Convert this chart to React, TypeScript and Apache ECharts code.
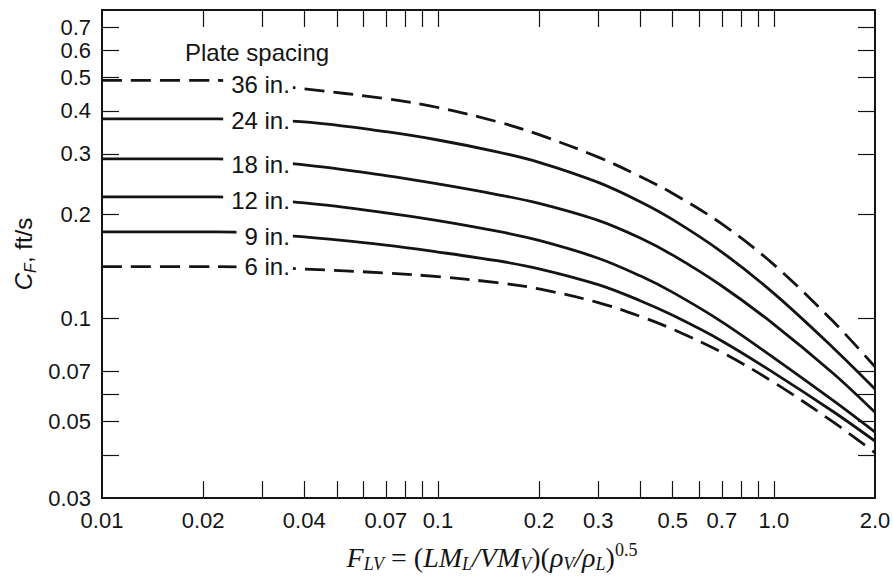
import React, { useEffect, useRef } from "react";
import * as echarts from "echarts";

// F_LV sample positions (shared by all curves)
const FLV = [0.01, 0.022, 0.04, 0.07, 0.1, 0.15, 0.2, 0.3, 0.4, 0.5, 0.7, 1.0, 1.5, 2.0];

// C_F (ft/s) for each plate spacing
const spacingNames = ["36 in.", "24 in.", "18 in.", "12 in.", "9 in.", "6 in."];
const cf36 = [0.49, 0.49, 0.463, 0.4337, 0.4089, 0.3719, 0.3409, 0.2934, 0.2578, 0.2301, 0.1877, 0.1429, 0.0978, 0.0722];
const cf24 = [0.379, 0.379, 0.3714, 0.3478, 0.329, 0.304, 0.2834, 0.2477, 0.2177, 0.1931, 0.1555, 0.1179, 0.082, 0.0622];
const cf18 = [0.29, 0.29, 0.2785, 0.2592, 0.2452, 0.2284, 0.2153, 0.1921, 0.1707, 0.1523, 0.1239, 0.0959, 0.0691, 0.0532];
const cf12 = [0.225, 0.225, 0.2159, 0.2022, 0.192, 0.1788, 0.168, 0.1492, 0.1326, 0.1187, 0.0975, 0.0766, 0.0576, 0.0466];
const cf9 = [0.178, 0.178, 0.172, 0.1628, 0.1555, 0.1467, 0.139, 0.125, 0.1123, 0.1018, 0.0858, 0.0693, 0.0535, 0.0439];
const cf6 = [0.141, 0.141, 0.1388, 0.1351, 0.1319, 0.1267, 0.1215, 0.1109, 0.1011, 0.0928, 0.0795, 0.065, 0.0499, 0.0406];
const curves = [cf36, cf24, cf18, cf12, cf9, cf6];
const dashedCurves = [true, false, false, false, false, true];

// curve label anchors (right end of label text)
const labelFLV = 0.037;
const labelCF = [0.476, 0.374, 0.28, 0.219, 0.173, 0.141];

// axis ticks and labels
const xTickValues = [0.02, 0.03, 0.04, 0.05, 0.06, 0.07, 0.08, 0.09, 0.1, 0.2, 0.3, 0.4, 0.5, 0.6, 0.7, 0.8, 0.9, 1.0];
const xLabelValues = [0.01, 0.02, 0.04, 0.07, 0.1, 0.2, 0.3, 0.5, 0.7, 1.0, 2.0];
const yTickValues = [0.04, 0.05, 0.06, 0.07, 0.1, 0.2, 0.3, 0.4, 0.5, 0.6, 0.7];
const yLabelValues = [0.03, 0.05, 0.07, 0.1, 0.2, 0.3, 0.4, 0.5, 0.6, 0.7];

const INK = "#141414";
const SANS = "'Liberation Sans', Arial, Helvetica, sans-serif";
const SERIF = "'Liberation Serif', 'Times New Roman', serif";

const fmt = (v: number) => {
  const r = Number(Number(v).toPrecision(4));
  return r >= 1 ? r.toFixed(1) : String(r);
};

function makeAxisCommon(show: boolean, labels: number[], ticks: number[]) {
  return {
    axisLine: { show: true, onZero: false, lineStyle: { color: INK, width: 2 } },
    axisTick: {
      show: true,
      inside: true,
      length: 17,
      customValues: ticks,
      lineStyle: { color: INK, width: 1.2 },
    },
    axisLabel: {
      show,
      customValues: labels,
      formatter: fmt,
      color: INK,
      fontSize: 22,
      fontFamily: SANS,
      margin: 11,
    },
    splitLine: { show: false },
    minorTick: { show: false },
    minorSplitLine: { show: false },
  };
}

export default function App() {
  const ref = useRef<HTMLDivElement>(null);

  useEffect(() => {
    if (!ref.current) return;
    const chart = echarts.init(ref.current, undefined, { renderer: "svg" });

    const lineSeries = curves.map((cf, i) => ({
      type: "line",
      name: spacingNames[i],
      xAxisIndex: 0,
      yAxisIndex: 0,
      data: FLV.map((x, j) => [x, cf[j]]),
      showSymbol: false,
      symbol: "none",
      smooth: 0.35,
      z: 2,
      lineStyle: {
        color: INK,
        width: 2.8,
        type: dashedCurves[i] ? [20, 9] : "solid",
      },
      silent: true,
    }));

    const labelSeries = {
      type: "scatter",
      xAxisIndex: 0,
      yAxisIndex: 0,
      symbol: "circle",
      symbolSize: 0,
      itemStyle: { color: INK, opacity: 1 },
      z: 10,
      silent: true,
      data: spacingNames.map((n, i) => ({ name: n, value: [labelFLV, labelCF[i]] })),
      label: {
        show: true,
        position: "left",
        distance: 0,
        formatter: "{b}",
        color: INK,
        opacity: 1,
        textBorderWidth: 0,
        fontSize: 24,
        fontFamily: SANS,
        backgroundColor: "#fff",
        padding: [1, 3, 1, 8],
      },
      emphasis: { disabled: true },
    };

    const option: any = {
      animation: false,
      backgroundColor: "#fff",
      grid: {
        left: 102,
        right: 18,
        top: 10,
        bottom: 80,
        containLabel: false,
        outerBoundsMode: "none",
      },
      xAxis: [
        {
          type: "log",
          logBase: 10,
          min: 0.01,
          max: 2.0,
          position: "bottom",
          ...makeAxisCommon(true, xLabelValues, xTickValues),
        },
        {
          type: "log",
          logBase: 10,
          min: 0.01,
          max: 2.0,
          position: "top",
          ...makeAxisCommon(false, xLabelValues, xTickValues),
        },
      ],
      yAxis: [
        {
          type: "log",
          logBase: 10,
          min: 0.03,
          max: 0.785,
          position: "left",
          ...makeAxisCommon(true, yLabelValues, yTickValues),
        },
        {
          type: "log",
          logBase: 10,
          min: 0.03,
          max: 0.785,
          position: "right",
          ...makeAxisCommon(false, yLabelValues, yTickValues),
        },
      ],
      series: [...lineSeries, labelSeries],
      graphic: [
        {
          type: "text",
          x: 185,
          y: 52,
          z: 20,
          style: {
            text: "Plate spacing",
            fill: INK,
            fontSize: 24,
            fontFamily: SANS,
            align: "left",
            verticalAlign: "middle",
          },
        },
        {
          type: "text",
          x: 23,
          y: 254,
          rotation: Math.PI / 2,
          z: 20,
          style: {
            text: "{c|C}{s|F}{n|, ft/s}",
            align: "center",
            verticalAlign: "middle",
            fill: INK,
            rich: {
              c: { fontSize: 24, fontStyle: "italic", fontFamily: SANS, lineHeight: 30, fill: INK },
              s: { fontSize: 16, fontStyle: "italic", fontFamily: SANS, verticalAlign: "bottom", fill: INK },
              n: { fontSize: 24, fontFamily: SANS, lineHeight: 30, fill: INK },
            },
          },
        },
        {
          type: "text",
          x: 492,
          y: 557,
          z: 20,
          style: {
            text: "{i|F}{s|LV}{n| = (}{i|LM}{s|L}{i|/VM}{s|V}{n|)(}{i|ρ}{s|V}{i|/ρ}{s|L}{n|)}{p|0.5}",
            align: "center",
            verticalAlign: "middle",
            fill: INK,
            rich: {
              i: { fontSize: 28, fontStyle: "italic", fontFamily: SERIF, lineHeight: 32, fill: INK },
              n: { fontSize: 28, fontFamily: SERIF, lineHeight: 32, fill: INK },
              s: { fontSize: 18, fontStyle: "italic", fontFamily: SERIF, verticalAlign: "bottom", fill: INK },
              p: { fontSize: 18, fontFamily: SERIF, verticalAlign: "top", fill: INK },
            },
          },
        },
      ],
    };

    chart.setOption(option);
    return () => chart.dispose();
  }, []);

  return (
    <div
      ref={ref}
      style={{ position: "fixed", left: 0, top: 0, width: 893, height: 578, background: "#fff" }}
    />
  );
}
